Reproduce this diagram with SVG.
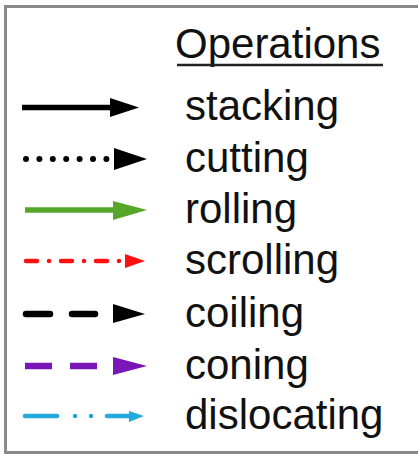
<svg xmlns="http://www.w3.org/2000/svg" width="418" height="454" viewBox="0 0 418 454">
  <style>
    .lbl { font-family: "Liberation Sans", Arial, sans-serif; font-size: 42px; fill: #111; }
    .k { stroke: #000; fill: none; }
    .g { stroke: #56a62a; fill: none; }
    .r { stroke: #ff1010; fill: none; }
    .p { stroke: #7a16b8; fill: none; }
    .c { stroke: #22aadd; fill: none; }
  </style>
  <rect width="418" height="454" fill="#fff"/>
  <!-- frame (right edge runs past the canvas) -->
  <rect x="5.5" y="6.5" width="430" height="446" fill="none" stroke="#8a8a8a" stroke-width="3"/>

  <g id="title">
    <text class="lbl" x="175" y="58">Operations</text>
    <line x1="177" y1="65" x2="383" y2="65" stroke="#222" stroke-width="2.5"/>
  </g>

  <g id="stacking">
    <line class="k" x1="22" y1="107.5" x2="114" y2="107.5" stroke-width="5.5"/>
    <polygon points="110,98 139,107.5 110,117" fill="#000"/>
    <text class="lbl" x="185" y="120">stacking</text>
  </g>

  <g id="cutting">
    <line class="k" x1="26" y1="159" x2="107" y2="159" stroke-width="6" stroke-linecap="round" stroke-dasharray="0 13.4"/>
    <polygon points="114,148 147,159 114,170" fill="#000"/>
    <text class="lbl" x="185" y="172">cutting</text>
  </g>

  <g id="rolling">
    <line class="g" x1="25" y1="210" x2="117" y2="210" stroke-width="5.5"/>
    <polygon points="113,201 147,210 113,220" fill="#56a62a"/>
    <text class="lbl" x="185" y="223">rolling</text>
  </g>

  <g id="scrolling">
    <g class="r" stroke-width="4.5" stroke-linecap="round">
      <line x1="26" y1="261" x2="37" y2="261"/>
      <line x1="49" y1="261" x2="49" y2="261"/>
      <line x1="61" y1="261" x2="72" y2="261"/>
      <line x1="84" y1="261" x2="84" y2="261"/>
      <line x1="96" y1="261" x2="107" y2="261"/>
      <line x1="119" y1="261" x2="119" y2="261"/>
    </g>
    <polygon points="125,254 145,261 125,268" fill="#ff1010"/>
    <text class="lbl" x="185" y="274">scrolling</text>
  </g>

  <g id="coiling">
    <g class="k" stroke-width="6.5" stroke-linecap="round">
      <line x1="26" y1="314" x2="50" y2="314"/>
      <line x1="72" y1="314" x2="95" y2="314"/>
    </g>
    <polygon points="113,304 145,314 113,323" fill="#000"/>
    <text class="lbl" x="185" y="327">coiling</text>
  </g>

  <g id="coning">
    <g class="p" stroke-width="6.5">
      <line x1="25" y1="366" x2="52" y2="366"/>
      <line x1="70" y1="366" x2="97" y2="366"/>
    </g>
    <polygon points="113,357 147,366 113,375" fill="#7a16b8"/>
    <text class="lbl" x="185" y="379">coning</text>
  </g>

  <g id="dislocating">
    <g class="c" stroke-width="4.5" stroke-linecap="round">
      <line x1="25" y1="416" x2="57" y2="416"/>
      <line x1="75" y1="416" x2="75" y2="416"/>
      <line x1="91" y1="416" x2="91" y2="416"/>
      <line x1="107" y1="416" x2="132" y2="416"/>
    </g>
    <polygon points="129,411 144,416 129,422" fill="#22aadd"/>
    <text class="lbl" x="185" y="429">dislocating</text>
  </g>
</svg>
